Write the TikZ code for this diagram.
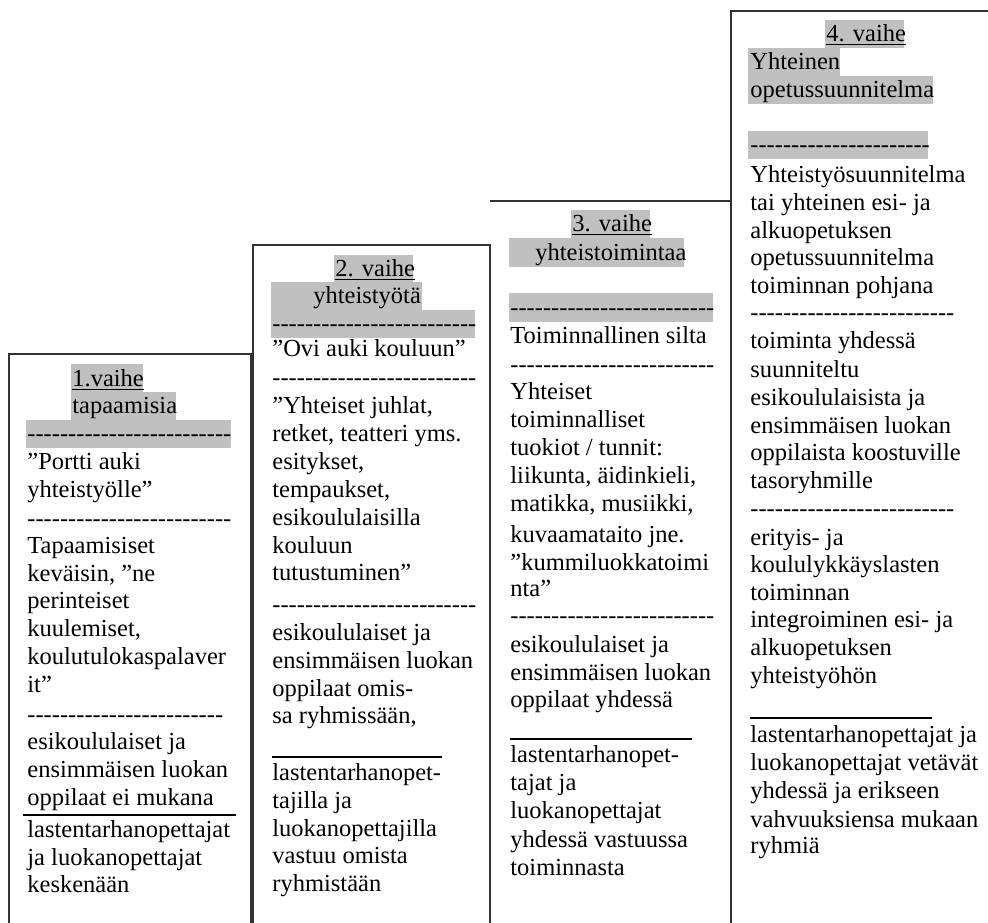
\documentclass[tikz,border=0pt]{standalone}
\usepackage{fontspec}
\setmainfont{Liberation Serif}
\definecolor{hlgray}{RGB}{192,192,192}
\definecolor{boxline}{RGB}{50,50,50}
\newcommand\hyrow[1]{\foreach \k in {1,...,#1}{-\kern0pt}}
\newcommand\textlines[3]{%
  \foreach \myy/\mytext [count=\i] in {#3} {\node[txt] (#1\i) at (#2,\myy) {\mytext};}}
\tikzset{
  txt/.style={anchor=base west, inner sep=0pt, font=\fontsize{12.25}{14}\selectfont},
  stage/.style={draw=boxline, line width=0.7pt},
  hl/.style={fill=hlgray, draw=none},
  rulel/.style={draw=black, line width=0.6pt},
}
\begin{document}
\begin{tikzpicture}[x=0.5pt, y=-0.5pt]
\useasboundingbox (0,0) rectangle (988,922);
\clip (0,0) rectangle (988,922);
\fill[white] (0,0) rectangle (988,922);

% stage boxes
\draw[stage] (9,935) -- (9,354) -- (251,354) -- (251,935);
\draw[stage] (253,935) -- (253,245) -- (490,245) -- (490,935);
\draw[stage] (490,201) -- (731,201);
\draw[stage] (731,935) -- (731,11) -- (995,11);

% highlights
\path[hl] (71,364) rectangle (143,392);
\path[hl] (71,392) rectangle (176,420);
\path[hl] (26,420) rectangle (231,448);
\path[hl] (334,255) rectangle (413,282);
\path[hl] (271,282) rectangle (422,310);
\path[hl] (271,310) rectangle (475,338);
\path[hl] (571,210) rectangle (650,238);
\path[hl] (509,238) rectangle (684,267);
\path[hl] (509,293) rectangle (713,322);
\path[hl] (825,20) rectangle (904,48);
\path[hl] (748,48) rectangle (840,76);
\path[hl] (748,76) rectangle (933,104);
\path[hl] (748,131) rectangle (928,159);

% headers
\node[txt] (h1a) at (72,386) {1.vaihe};
\node[txt] (h1b) at (72,413) {tapaamisia};
\node[txt] (h1c) at (27,441) {\hyrow{25}};
\node[txt] (h2a) at (335,276) {2. vaihe};
\node[txt] (h2b) at (313,303) {yhteistyötä};
\node[txt] (h2c) at (272,331) {\hyrow{25}};
\node[txt] (h3a) at (572,231) {3. vaihe};
\node[txt] (h3b) at (535,260) {yhteistoimintaa};
\node[txt] (h3c) at (510,315) {\hyrow{25}};
\node[txt] (h4a) at (826,41) {4. vaihe};
\node[txt] (h4b) at (750,69) {Yhteinen};
\node[txt] (h4c) at (750,97) {opetussuunnitelma};
\node[txt] (h4d) at (750,152) {\hyrow{22}};
\foreach \n in {h1a,h2a,h3a,h4a}
  \draw[line width=0.6pt] ([yshift=-1.8pt]\n.base west) -- ([yshift=-1.8pt]\n.base east);

% box 1 body
\textlines{a}{27}{469/{”Portti auki},497/{yhteistyölle”},526/{\hyrow{25}},
  553/Tapaamisiset,581/{keväisin, ”ne},608/perinteiset,636/{kuulemiset,},
  664/koulutulokaspalaver,692/{it”},722/{\hyrow{24}},
  749/{esikoululaiset ja},777/{ensimmäisen luokan},805/{oppilaat ei mukana},
  837/lastentarhanopettajat,865/{ja luokanopettajat},892/keskenään}
\draw[rulel] (23,815) -- (236,815);

% box 2 body
\textlines{b}{272}{356/{”Ovi auki kouluun”},385/{\hyrow{25}},
  413/{”Yhteiset juhlat,},441/{retket, teatteri yms.},469/{esitykset,},
  497/{tempaukset,},525/esikoululaisilla,553/kouluun,580/{tutustuminen”},
  612/{\hyrow{25}},
  640/{esikoululaiset ja},668/{ensimmäisen luokan},696/{oppilaat omis-},
  723/{sa ryhmissään,},
  780/{lastentarhanopet-},808/{tajilla ja},836/luokanopettajilla,
  863/{vastuu omista},891/ryhmistään}
\draw[rulel] (272,757) -- (442,757);

% box 3 body
\textlines{c}{510}{343/{Toiminnallinen silta},372/{\hyrow{25}},
  399/Yhteiset,427/toiminnalliset,455/{tuokiot / tunnit:},
  483/{liikunta, äidinkieli,},511/{matikka, musiikki,},542/{kuvaamataito jne.},
  570/{”kummiluokkatoimi},596/{nta”},623/{\hyrow{25}},
  652/{esikoululaiset ja},680/{ensimmäisen luokan},707/{oppilaat yhdessä},
  762/{lastentarhanopet-},790/{tajat ja},818/luokanopettajat,
  847/{yhdessä vastuussa},875/toiminnasta}
\draw[rulel] (510,739) -- (692,739);

% box 4 body
\textlines{d}{750}{182/Yhteistyösuunnitelma,210/{tai yhteinen esi- ja},
  238/alkuopetuksen,265/opetussuunnitelma,293/{toiminnan pohjana},
  320/{\hyrow{25}},
  348/{toiminta yhdessä},377/suunniteltu,405/{esikoululaisista ja},
  433/{ensimmäisen luokan},460/{oppilaista koostuville},488/tasoryhmille,
  516/{\hyrow{25}},
  545/{erityis- ja},572/koululykkäyslasten,600/toiminnan,
  627/{integroiminen esi- ja},655/alkuopetuksen,683/yhteistyöhön,
  742/{lastentarhanopettajat ja},770/{luokanopettajat vetävät},
  798/{yhdessä ja erikseen},827/{vahvuuksiensa mukaan},853/ryhmiä}
\draw[rulel] (750,718) -- (932,718);
\end{tikzpicture}
\end{document}
